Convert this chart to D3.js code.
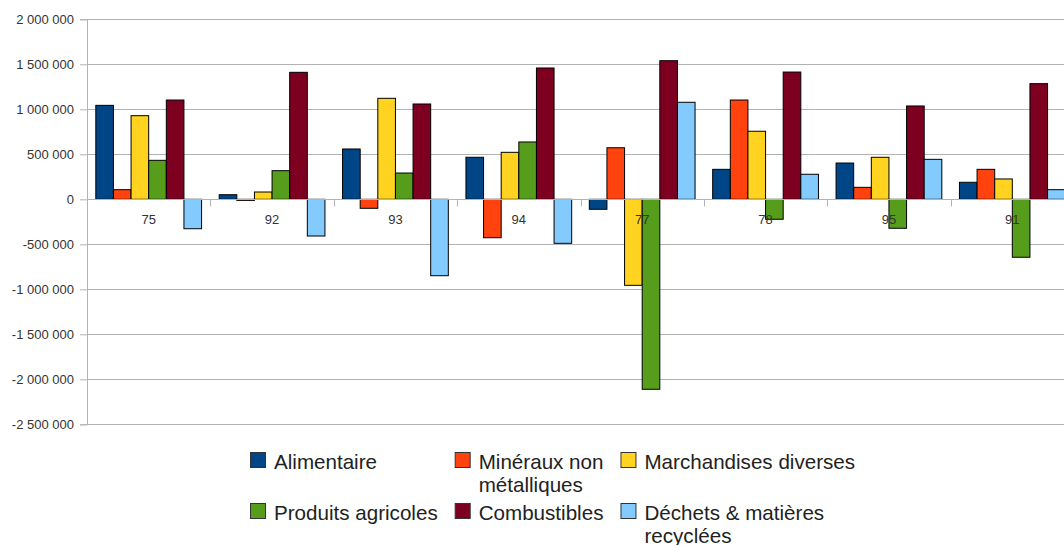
<!DOCTYPE html>
<html><head><meta charset="utf-8">
<script src="https://cdn.jsdelivr.net/npm/d3@7"></script>
<style>body{margin:0;background:#fff;} svg{display:block;font-family:"Liberation Sans",Arial,sans-serif;}</style>
</head><body><svg id="c" width="1064" height="545"></svg>
<script>
const categories = ["75","92","93","94","77","78","95","91"];
const seriesNames = ["Alimentaire","Minéraux non métalliques","Marchandises diverses","Produits agricoles","Combustibles","Déchets & matières recyclées"];
const seriesColors = ["#004586","#ff420e","#ffd320","#579d1c","#7e0021","#83caff"];
const alimentaire  = [1044000,   51000,  559000,  467000, -111000,  333000,  403000,  189000];
const mineraux     = [ 107000,  -12000, -100000, -427000,  573000, 1103000,  133000,  333000];
const marchandises = [ 929000,   81000, 1122000,  522000, -956000,  756000,  467000,  226000];
const produits     = [ 433000,  318000,  292000,  637000,-2111000, -222000, -322000, -644000];
const combustibles = [1103000, 1411000, 1059000, 1459000, 1540000, 1414000, 1037000, 1285000];
const dechets      = [-327000, -408000, -849000, -489000, 1078000,  278000,  444000,  107000];
const yTickValues = [2000000,1500000,1000000,500000,0,-500000,-1000000,-1500000,-2000000,-2500000];

const seriesValues = [alimentaire, mineraux, marchandises, produits, combustibles, dechets];

const svg = d3.select("#c");
const plotLeft = 87, plotRight = 1074, plotTop = 19.3, plotBottom = 424.3;
const locale = d3.formatLocale({decimal:",", thousands:" ", grouping:[3], currency:["",""], minus:"-"});
const fmt = locale.format(",d");

const x0 = d3.scaleBand().domain(categories).range([plotLeft, plotRight]).padding(0);
const x1 = d3.scaleBand().domain(d3.range(seriesNames.length)).range([0, x0.bandwidth()]).paddingInner(0).paddingOuter(0.5);
const y = d3.scaleLinear().domain([-2500000, 2000000]).range([plotBottom, plotTop]);

// gridlines
svg.append("g").selectAll("line").data(yTickValues).join("line")
  .attr("x1", plotLeft).attr("x2", plotRight)
  .attr("y1", d => Math.round(y(d)) + 0.5).attr("y2", d => Math.round(y(d)) + 0.5)
  .attr("stroke", "#b3b3b3").attr("stroke-width", 1);

// bars
const gCats = svg.append("g").selectAll("g").data(categories).join("g")
  .attr("transform", d => `translate(${x0(d)},0)`);
gCats.selectAll("rect").data((c, ci) => seriesValues.map((s, si) => ({si, v: s[ci]}))).join("rect")
  .attr("x", d => x1(d.si))
  .attr("width", x1.bandwidth())
  .attr("y", d => Math.min(y(d.v), y(0)))
  .attr("height", d => Math.max(1, Math.abs(y(d.v) - y(0))))
  .attr("fill", d => seriesColors[d.si])
  .attr("stroke", "#000").attr("stroke-width", 1);

// y axis
const yAxis = d3.axisLeft(y).tickValues(yTickValues).tickSize(7).tickPadding(6).tickFormat(fmt);
const gy = svg.append("g").attr("transform", `translate(${plotLeft},0)`).call(yAxis);
gy.select(".domain").attr("stroke", "#b3b3b3");
gy.selectAll(".tick line").attr("stroke", "#b3b3b3");
gy.selectAll(".tick text").attr("fill", "#333").attr("font-size", 13).attr("font-family", "Liberation Sans, Arial, sans-serif");

// x axis at zero
const gx = svg.append("g").attr("transform", `translate(0,${Math.round(y(0)) + 0.5})`);
gx.append("line").attr("x1", plotLeft).attr("x2", plotRight).attr("stroke", "#b3b3b3");
gx.selectAll(".xt").data(categories.slice(1)).join("line").attr("class", "xt")
  .attr("x1", d => Math.round(x0(d)) + 0.5).attr("x2", d => Math.round(x0(d)) + 0.5)
  .attr("y1", 0).attr("y2", 7).attr("stroke", "#b3b3b3");
gx.selectAll("text").data(categories).join("text")
  .attr("x", d => x0(d) + x0.bandwidth() / 2).attr("y", 24)
  .attr("text-anchor", "middle").attr("fill", "#333").attr("font-size", 13)
  .text(d => d);

// legend
const legFont = 20.6, lineH = 23, wrapW = 222, gap = 17, txtOff = 24, sq = 15;
const legend = svg.append("g");
const measure = svg.append("text").attr("font-size", legFont).attr("visibility", "hidden");
function textW(s){ measure.text(s); return measure.node().getComputedTextLength(); }
function wrap(s){
  const words = s.split(" "); const lines = []; let cur = "";
  words.forEach(w => { const t = cur ? cur + " " + w : w; if (cur && textW(t) > wrapW) { lines.push(cur); cur = w; } else cur = t; });
  if (cur) lines.push(cur); return lines;
}
const items = seriesNames.map((n, i) => ({i, lines: wrap(n)}));
items.forEach(it => it.w = d3.max(it.lines, textW));
const nCols = 3;
const colW = d3.range(nCols).map(c => d3.max(items.filter(it => it.i % nCols === c), it => it.w));
const colX = [250];
for (let c = 1; c < nCols; c++) colX.push(colX[c-1] + txtOff + colW[c-1] + gap);
const rowY = [452, 503];
measure.remove();
items.forEach(it => {
  const c = it.i % nCols, r = Math.floor(it.i / nCols);
  const g = legend.append("g").attr("transform", `translate(${colX[c]},${rowY[r]})`);
  g.append("rect").attr("x", 0.5).attr("y", 0.5).attr("width", sq).attr("height", sq)
    .attr("fill", seriesColors[it.i]).attr("stroke", "#333").attr("stroke-width", 1);
  const t = g.append("text").attr("x", txtOff).attr("y", 17).attr("font-size", legFont).attr("fill", "#222");
  it.lines.forEach((l, k) => t.append("tspan").attr("x", txtOff).attr("dy", k ? lineH : 0).text(l));
});
</script></body></html>
